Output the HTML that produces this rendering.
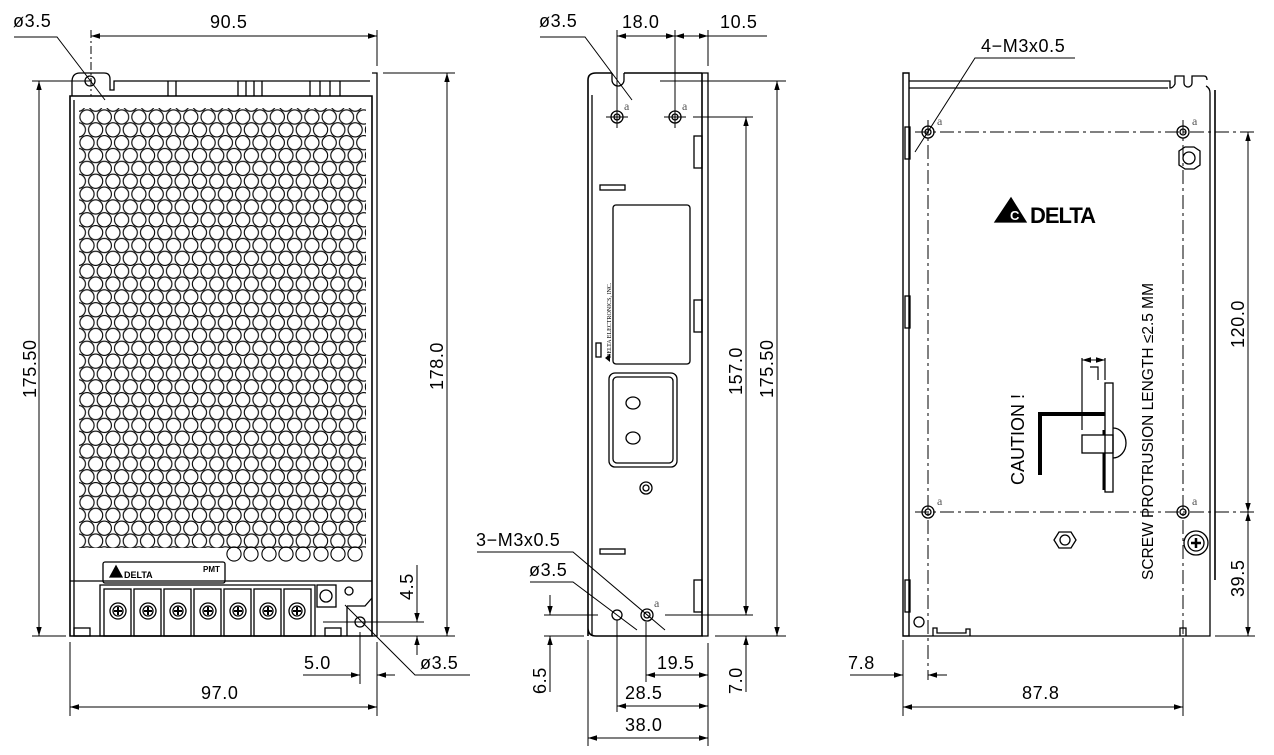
<!DOCTYPE html>
<html><head><meta charset="utf-8"><style>
html,body{margin:0;padding:0;background:#fff}
svg{display:block}
text{font-family:"Liberation Sans",sans-serif;font-size:18px;letter-spacing:0.6px;fill:#000}
</style></head><body>
<svg width="1274" height="755" viewBox="0 0 1274 755" xmlns="http://www.w3.org/2000/svg">
<defs>
<marker id="a" viewBox="0 0 10 10" refX="10" refY="5" markerWidth="9" markerHeight="9" orient="auto-start-reverse" markerUnits="userSpaceOnUse"><path d="M0,2 L10,5 L0,8 z" fill="#000"/></marker>
<pattern id="holes" patternUnits="userSpaceOnUse" x="78.35" y="108.35" width="17.3" height="25.7">
<g fill="none" stroke="#000" stroke-width="1.1">
<circle cx="8.65" cy="8.65" r="7.1"/>
<circle cx="17.3" cy="21.5" r="7.1"/>
<circle cx="0" cy="21.5" r="7.1"/>
<circle cx="17.3" cy="-4.2" r="7.1"/>
<circle cx="0" cy="-4.2" r="7.1"/>
<circle cx="8.65" cy="34.35" r="7.1"/>
</g>
</pattern>
</defs>
<g stroke="#000" fill="none" stroke-width="1.3">
<path d="M70,636 V96 H372 V636 Z" stroke-width="1.6"/>
<path d="M74,100 V636"/>
<path d="M72,96 V82 Q72,73 80,73 H104 Q110,73 110,79 V90 H114 V81 H370"/>
<circle cx="90" cy="81" r="5"/>
<path d="M372,73 H377 V636 H372"/>
<path d="M238,81 V96 M246,81 V96 M254,81 V96 M262,81 V96 M310,81 V96 M320,81 V96 M330,81 V96 M340,81 V96 M168,81 V96 M176,81 V96"/>
<rect x="79" y="108" width="287" height="440" fill="url(#holes)" stroke="none"/>
<g stroke-width="1.1">
<circle cx="234" cy="554" r="7.1"/><circle cx="251" cy="554" r="7.1"/><circle cx="269" cy="554" r="7.1"/><circle cx="286" cy="554" r="7.1"/><circle cx="303" cy="554" r="7.1"/><circle cx="321" cy="554" r="7.1"/><circle cx="338" cy="554" r="7.1"/><circle cx="355" cy="554" r="7.1"/>
</g>
<path d="M70,581 H372"/>
<rect x="103" y="562" width="122" height="21" rx="2"/>
<path d="M110,577 L116,566 L122,577 Z" fill="#000"/>
<path d="M100,585 H315 V636 H100 Z"/>
<g>
<rect x="104" y="589" width="27" height="47"/><circle cx="118" cy="611" r="8"/><circle cx="118" cy="611" r="5"/>
<rect x="134" y="589" width="27" height="47"/><circle cx="148" cy="611" r="8"/><circle cx="148" cy="611" r="5"/>
<rect x="164" y="589" width="27" height="47"/><circle cx="178" cy="611" r="8"/><circle cx="178" cy="611" r="5"/>
<rect x="194" y="589" width="27" height="47"/><circle cx="208" cy="611" r="8"/><circle cx="208" cy="611" r="5"/>
<rect x="224" y="589" width="27" height="47"/><circle cx="238" cy="611" r="8"/><circle cx="238" cy="611" r="5"/>
<rect x="254" y="589" width="27" height="47"/><circle cx="268" cy="611" r="8"/><circle cx="268" cy="611" r="5"/>
<rect x="284" y="589" width="27" height="47"/><circle cx="297" cy="611" r="8"/><circle cx="297" cy="611" r="5"/>
</g>
<path d="M114,611 h8 M118,607 v8 M144,611 h8 M148,607 v8 M174,611 h8 M178,607 v8 M204,611 h8 M208,607 v8 M234,611 h8 M238,607 v8 M264,611 h8 M268,607 v8 M293,611 h8 M297,607 v8" stroke-width="2"/>
<rect x="317" y="585" width="19" height="22"/><circle cx="326" cy="596" r="6"/>
<circle cx="349" cy="591" r="4"/>
<path d="M347,606 H365 L372,598 M347,606 V636"/>
<circle cx="360" cy="622" r="5"/>
<rect x="74" y="628" width="16" height="8"/><rect x="325" y="628" width="16" height="8"/>
<path d="M91,30 V96" stroke-dasharray="8,3,2,3" stroke-width="1"/>
<path d="M377,30 V66 M32,81 H92 M32,636 H66 M383,73 H455 M380,636 H455 M70,642 V716 M377,642 V716 M360,632 V684 M323,622 H424" stroke-width="1"/>
<path d="M91,36 H377" marker-start="url(#a)" marker-end="url(#a)" stroke-width="1"/>
<path d="M39,81 V636" marker-start="url(#a)" marker-end="url(#a)" stroke-width="1"/>
<path d="M447,73 V636" marker-start="url(#a)" marker-end="url(#a)" stroke-width="1"/>
<path d="M70,707 H377" marker-start="url(#a)" marker-end="url(#a)" stroke-width="1"/>
<path d="M303,675 H360" marker-end="url(#a)" stroke-width="1"/><path d="M395,675 H377" marker-end="url(#a)" stroke-width="1"/>
<path d="M417,565 V622" marker-end="url(#a)" stroke-width="1"/><path d="M417,655 V636" marker-end="url(#a)" stroke-width="1"/>
<path d="M14,37 H57 L105,100" stroke-width="1"/>
<path d="M345,605 L415,675 H470" stroke-width="1"/>
<path d="M588,636 V80 Q588,73 596,73 H612 M624,73 H702 M702,73 V636 H596 Q588,636 588,628" stroke-width="1.6"/>
<path d="M612,73 V80 A6,6 0 0 0 624,80 V73"/>
<path d="M702,73 H708 V636 H702 M592,95 V636"/>
<rect x="694" y="136" width="8" height="32"/><rect x="694" y="300" width="8" height="32"/><rect x="694" y="580" width="8" height="32"/>
<circle cx="617" cy="117" r="6"/><circle cx="617" cy="117" r="3"/>
<circle cx="675" cy="117" r="6"/><circle cx="675" cy="117" r="3"/>
<path d="M606,117 h22 M617,106 v22 M664,117 h22 M675,106 v22" stroke-width="1"/>
<rect x="600" y="185" width="25" height="5"/>
<rect x="613" y="205" width="77" height="159" rx="3"/>
<rect x="596" y="343" width="5" height="14"/>
<rect x="609" y="373" width="68" height="94" rx="6"/><rect x="613" y="377" width="60" height="86" rx="4"/>
<ellipse cx="633" cy="403" rx="7" ry="6"/><ellipse cx="633" cy="438" rx="7" ry="6"/>
<circle cx="646" cy="488" r="6"/><circle cx="646" cy="488" r="3"/>
<rect x="600" y="549" width="25" height="5"/>
<circle cx="617" cy="615" r="5"/>
<circle cx="647" cy="615" r="6"/><circle cx="647" cy="615" r="3"/>
<path d="M617,30 V110 M675,30 V110 M708,30 V66 M660,81 H786 M693,117 H753 M665,615 H753 M715,636 H786 M544,615 H598 M544,636 H584 M646,622 V682 M617,620 V712 M588,640 V746 M708,643 V746" stroke-width="1"/>
<path d="M617,36 H675" marker-start="url(#a)" marker-end="url(#a)" stroke-width="1"/>
<path d="M675,36 H708" marker-start="url(#a)" marker-end="url(#a)" stroke-width="1"/><path d="M708,36 H767" stroke-width="1"/>
<path d="M540,37 H585 L632,100" stroke-width="1"/>
<path d="M746,117 V615" marker-start="url(#a)" marker-end="url(#a)" stroke-width="1"/>
<path d="M777,81 V636" marker-start="url(#a)" marker-end="url(#a)" stroke-width="1"/>
<path d="M746,595 V615" marker-end="url(#a)" stroke-width="1"/><path d="M746,692 V636" marker-end="url(#a)" stroke-width="1"/>
<path d="M550,595 V615" marker-end="url(#a)" stroke-width="1"/><path d="M550,692 V636" marker-end="url(#a)" stroke-width="1"/>
<path d="M646,675 H708" marker-start="url(#a)" marker-end="url(#a)" stroke-width="1"/>
<path d="M617,706 H708" marker-start="url(#a)" marker-end="url(#a)" stroke-width="1"/>
<path d="M588,738 H708" marker-start="url(#a)" marker-end="url(#a)" stroke-width="1"/>
<path d="M477,552 H573 L665,630" stroke-width="1"/>
<path d="M530,582 H573 L637,630" stroke-width="1"/>
<path d="M903,73 H909 V636 H903 Z" stroke-width="1.4"/>
<path d="M909,636 H1210 V93 Q1210,88 1206,86 M909,81 H1170 V88 Q1173,88 1175,84 V76 H1184 V83 A4,4 0 0 0 1192,83 V76 H1204 Q1207,76 1207,80"/>
<path d="M909,88 H1168"/>
<path d="M1215,90 V580" stroke-width="1.6"/>
<rect x="905" y="127" width="5" height="32"/><rect x="905" y="296" width="5" height="32"/><rect x="905" y="580" width="5" height="32"/>
<circle cx="928" cy="132" r="6"/><circle cx="928" cy="132" r="3"/>
<circle cx="1183" cy="132" r="6"/><circle cx="1183" cy="132" r="3"/>
<circle cx="928" cy="512" r="6"/><circle cx="928" cy="512" r="3"/>
<circle cx="1183" cy="512" r="6"/><circle cx="1183" cy="512" r="3"/>
<path d="M915,132 H1255 M915,512 H1255 M928,120 V680 M1183,120 V680" stroke-width="1" stroke-dasharray="14,4,3,4"/>
<path d="M1179,151 L1185,147 L1194,147 L1200,151 L1200,165 L1194,169 L1185,169 L1179,165 Z"/>
<circle cx="1189" cy="158" r="6"/>
<path d="M1054,540 L1059,532 L1071,532 L1076,540 L1071,548 L1059,548 Z"/><circle cx="1065" cy="540" r="5"/>
<circle cx="1196" cy="543" r="12"/><circle cx="1196" cy="543" r="8"/>
<path d="M1191,543 h10 M1196,538 v10" stroke-width="2.5"/>
<circle cx="919" cy="622" r="5"/>
<path d="M933,636 V628 H937 V633 H966 V629 H970 V636 M1180,636 V628 H1186 V636"/>
<path d="M1040,475 V414 H1105" stroke-width="4"/>
<rect x="1105" y="383" width="8" height="109"/>
<path d="M1104,430 V435 M1104,453 V490" stroke-width="3"/>
<rect x="1082" y="435" width="31" height="18"/>
<path d="M1113,428 A13,15 0 0 1 1113,458"/>
<path d="M1082,358 V430 M1105,358 V380 M1090,367 H1098 V380" stroke-width="1.2"/>
<path d="M1082,360 H1105" marker-start="url(#a)" marker-end="url(#a)" stroke-width="1"/>
<path d="M995,222 L1011,198 L1026,222 Z" fill="#000"/>
<path d="M1215,636 H1255 M903,640 V716 M1183,640 V716" stroke-width="1"/>
<path d="M1248,132 V512" marker-start="url(#a)" marker-end="url(#a)" stroke-width="1"/>
<path d="M1248,512 V636" marker-start="url(#a)" marker-end="url(#a)" stroke-width="1"/>
<path d="M850,675 H903" marker-end="url(#a)" stroke-width="1"/><path d="M947,675 H928" marker-end="url(#a)" stroke-width="1"/>
<path d="M903,707 H1183" marker-start="url(#a)" marker-end="url(#a)" stroke-width="1"/>
<path d="M1075,58 H975 L915,152" stroke-width="1"/>
</g>
<g style="font-size:12px;fill:#555;font-family:'Liberation Serif',serif">
<text x="624" y="110" style="font-size:12px;fill:#555;font-family:'Liberation Serif',serif">a</text>
<text x="682" y="110" style="font-size:12px;fill:#555;font-family:'Liberation Serif',serif">a</text>
<text x="654" y="607" style="font-size:12px;fill:#555;font-family:'Liberation Serif',serif">a</text>
<text x="937" y="125" style="font-size:12px;fill:#555;font-family:'Liberation Serif',serif">a</text>
<text x="1192" y="125" style="font-size:12px;fill:#555;font-family:'Liberation Serif',serif">a</text>
<text x="937" y="505" style="font-size:12px;fill:#555;font-family:'Liberation Serif',serif">a</text>
<text x="1192" y="505" style="font-size:12px;fill:#555;font-family:'Liberation Serif',serif">a</text>
</g>
<text x="124" y="578" style="font-size:9px;font-weight:bold;letter-spacing:0">DELTA</text>
<text x="203" y="572" style="font-size:8px;font-weight:bold;letter-spacing:0">PMT</text>
<text transform="translate(611,358) rotate(-90)" style="font-size:6px;letter-spacing:0;font-family:'Liberation Serif',serif">DELTA ELECTRONICS, INC.</text>
<path d="M605,358 l5,-4 l0,8 z" fill="#000"/>
<text x="1010" y="220" style="font-size:13px;font-weight:bold;fill:#fff;letter-spacing:0">C</text>
<text x="1030" y="223" style="font-size:22px;font-weight:bold;letter-spacing:-1px">DELTA</text>
<text x="13" y="27">ø3.5</text>
<text x="210" y="28">90.5</text>
<text transform="translate(36,398) rotate(-90)">175.50</text>
<text transform="translate(443,390) rotate(-90)">178.0</text>
<text transform="translate(413,600) rotate(-90)">4.5</text>
<text x="304" y="669">5.0</text>
<text x="420" y="669">ø3.5</text>
<text x="201" y="699">97.0</text>
<text x="539" y="27">ø3.5</text>
<text x="622" y="28">18.0</text>
<text x="720" y="28">10.5</text>
<text transform="translate(742,395) rotate(-90)">157.0</text>
<text transform="translate(773,398) rotate(-90)">175.50</text>
<text x="476" y="546">3−M3x0.5</text>
<text x="529" y="576">ø3.5</text>
<text transform="translate(546,694) rotate(-90)">6.5</text>
<text transform="translate(742,694) rotate(-90)">7.0</text>
<text x="657" y="669">19.5</text>
<text x="625" y="699">28.5</text>
<text x="625" y="731">38.0</text>
<text x="981" y="52">4−M3x0.5</text>
<text transform="translate(1244,348) rotate(-90)">120.0</text>
<text transform="translate(1244,597) rotate(-90)">39.5</text>
<text x="848" y="669">7.8</text>
<text x="1022" y="699">87.8</text>
<text transform="translate(1024,485) rotate(-90)" style="font-size:18px;letter-spacing:0">CAUTION !</text>
<text transform="translate(1153,580) rotate(-90)" style="font-size:15.5px;letter-spacing:0">SCREW PROTRUSION LENGTH ≤2.5 MM</text>
</svg>
</body></html>
